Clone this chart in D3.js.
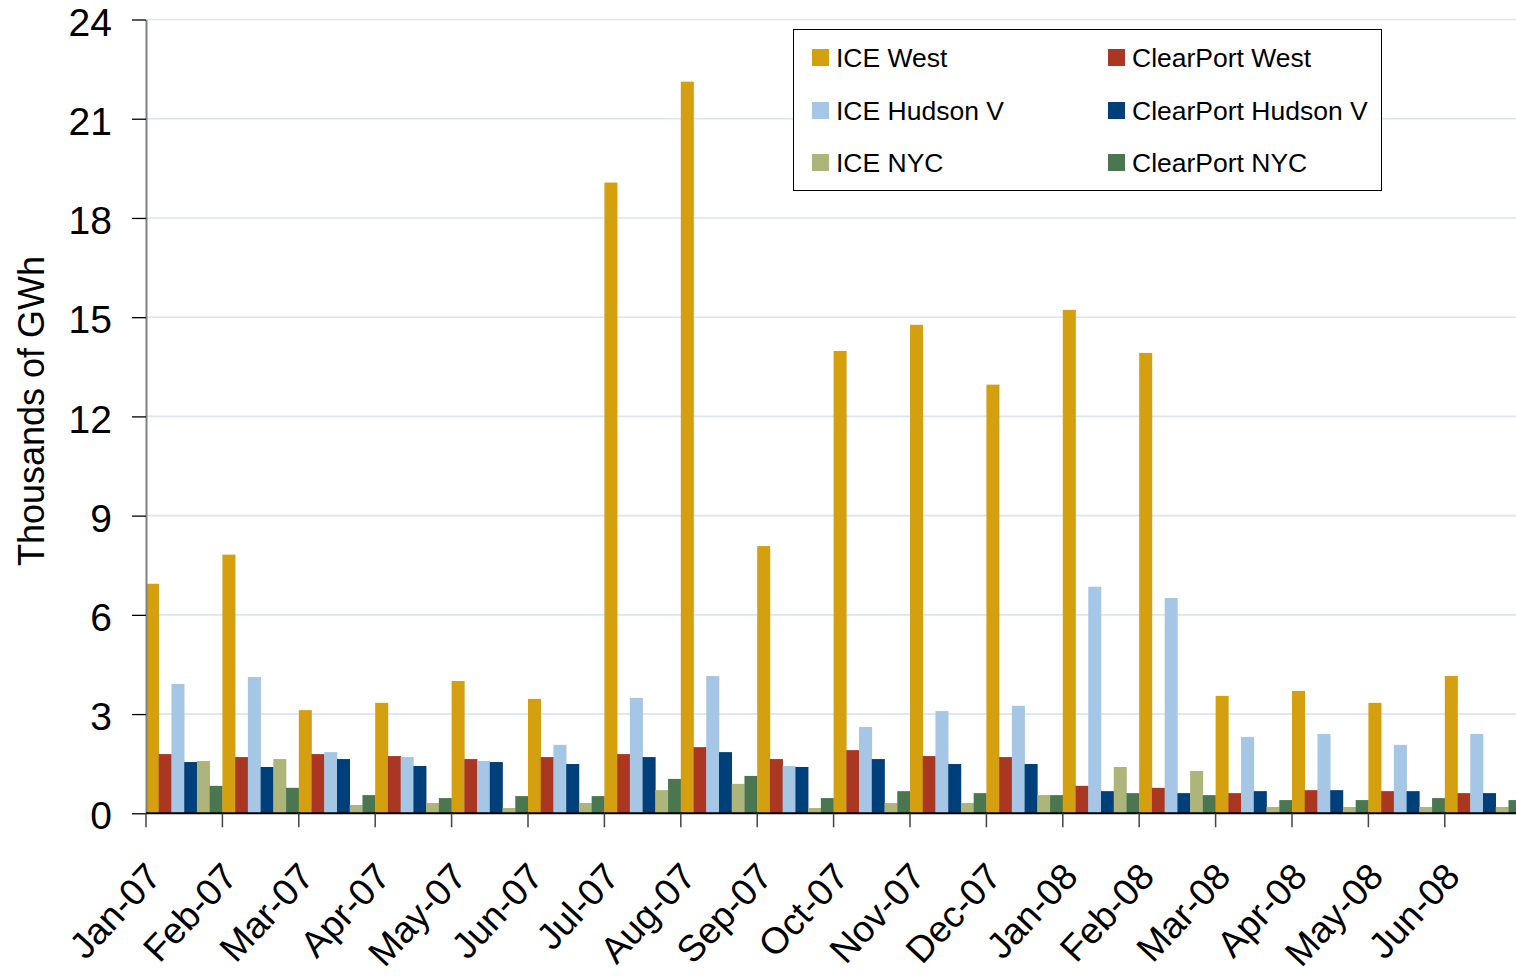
<!DOCTYPE html>
<html><head><meta charset="utf-8">
<script src="https://cdn.jsdelivr.net/npm/d3@7"></script>
<style>
html,body{margin:0;padding:0;background:#fff;}
svg{display:block;font-family:"Liberation Sans",Arial,sans-serif;}
</style></head>
<body>
<svg id="chart" width="1516" height="976"></svg>
<script>
const months = ["Jan-07","Feb-07","Mar-07","Apr-07","May-07","Jun-07","Jul-07","Aug-07","Sep-07","Oct-07","Nov-07","Dec-07","Jan-08","Feb-08","Mar-08","Apr-08","May-08","Jun-08"];
const seriesNames = ["ICE West","ClearPort West","ICE Hudson V","ClearPort Hudson V","ICE NYC","ClearPort NYC"];
const seriesColors = ["#D4A010","#A93721","#A5C6E4","#00407A","#ADB57B","#4A7750"];
const iceWest        = [6.94,7.82,3.12,3.34,4.00,3.46,19.07,22.12,8.08,13.98,14.77,12.96,15.22,13.92,3.55,3.70,3.34,4.15];
const clearPortWest  = [1.79,1.70,1.79,1.73,1.64,1.70,1.79,2.00,1.64,1.91,1.73,1.70,0.83,0.77,0.61,0.70,0.67,0.61];
const iceHudson      = [3.91,4.12,1.85,1.70,1.58,2.07,3.49,4.15,1.43,2.61,3.09,3.25,6.85,6.51,2.31,2.40,2.07,2.40];
const clearPortHudson= [1.55,1.40,1.64,1.43,1.55,1.49,1.70,1.85,1.40,1.64,1.49,1.49,0.67,0.61,0.67,0.70,0.67,0.61];
const iceNYC         = [1.58,1.64,0.25,0.31,0.16,0.31,0.70,0.89,0.16,0.31,0.31,0.55,1.40,1.28,0.19,0.19,0.19,0.19];
const clearPortNYC   = [0.83,0.77,0.55,0.46,0.52,0.52,1.04,1.13,0.46,0.67,0.61,0.55,0.61,0.55,0.40,0.40,0.46,0.40];
const yTicks = [0,3,6,9,12,15,18,21,24];
const yTitle = "Thousands of GWh";

const seriesValues = [iceWest, clearPortWest, iceHudson, clearPortHudson, iceNYC, clearPortNYC];

const svg = d3.select("#chart");
const plotLeft = 146, plotTop = 19.5, plotBottom = 813.3;
const band = 76.4;
const x = d3.scaleBand().domain(months).range([plotLeft, plotLeft + band*months.length]).padding(0);
const xi = d3.scaleBand().domain(seriesNames).range([0, x.bandwidth()]).padding(0);
const y = d3.scaleLinear().domain([0,24]).range([plotBottom, plotTop]);

// gridlines
svg.append("g").selectAll("line").data(yTicks.filter(d=>d>0)).join("line")
  .attr("x1", plotLeft).attr("x2", 1516)
  .attr("y1", d=>y(d)).attr("y2", d=>y(d))
  .attr("stroke", "#dbe6ea").attr("stroke-width", 1.6);

// bars
const groups = svg.append("g").selectAll("g").data(months).join("g")
  .attr("transform", d=>`translate(${x(d)},0)`);
groups.selectAll("rect").data((m,i)=>seriesNames.map((s,k)=>({s, v: seriesValues[k][i], c: seriesColors[k]})))
  .join("rect")
  .attr("x", d=>xi(d.s)).attr("width", xi.bandwidth()+0.3)
  .attr("y", d=>y(d.v)).attr("height", d=>y(0)-y(d.v))
  .attr("fill", d=>d.c);

// y axis
const yAxis = svg.append("g").attr("transform", `translate(${plotLeft},0)`)
  .call(d3.axisLeft(y).tickValues(yTicks).tickSize(14).tickSizeOuter(0).tickPadding(20).tickFormat(d3.format("d")));
yAxis.select(".domain").attr("stroke", "#808080").attr("stroke-width", 2);
yAxis.selectAll(".tick line").attr("stroke", "#000").attr("stroke-width", 1.3);
yAxis.selectAll(".tick text").attr("font-size", 39).attr("fill", "#000").attr("dy", "0.4em")
  .attr("font-family", '"Liberation Sans",Arial,sans-serif');

// x axis
const xAxis = svg.append("g").attr("transform", `translate(0,${plotBottom})`)
  .call(d3.axisBottom(x).tickSize(14).tickSizeOuter(0));
xAxis.select(".domain").attr("stroke", "#000").attr("stroke-width", 2)
  .attr("d", `M${plotLeft},0H1516`);
xAxis.selectAll(".tick").attr("transform", d=>`translate(${x(d)},0)`);
xAxis.selectAll(".tick line").attr("stroke", "#444").attr("stroke-width", 1.5);
xAxis.selectAll(".tick text")
  .attr("font-size", 37).attr("fill", "#000")
  .attr("font-family", '"Liberation Sans",Arial,sans-serif')
  .attr("text-anchor", "end")
  .attr("y", 0).attr("dy", 0)
  .attr("transform", "translate(17,65) rotate(-47)");

// y title
svg.append("text")
  .attr("transform", `translate(44,${411}) rotate(-90)`)
  .attr("text-anchor", "middle")
  .attr("font-size", 36).attr("fill", "#000")
  .text(yTitle);

// legend
const lg = svg.append("g");
lg.append("rect").attr("x", 793.5).attr("y", 29.5).attr("width", 588).attr("height", 161)
  .attr("fill", "#fff").attr("stroke", "#000").attr("stroke-width", 1);
const colX = [812, 1108], rowY = [57, 110, 162];
seriesNames.forEach((s,k)=>{
  const cx = colX[k%2], cy = rowY[Math.floor(k/2)];
  lg.append("rect").attr("x", cx).attr("y", cy-8).attr("width", 17).attr("height", 17).attr("fill", seriesColors[k]);
  lg.append("text").attr("x", cx+24).attr("y", cy).attr("dy", "0.36em")
    .attr("font-size", 26.5).attr("fill", "#000").text(s);
});
</script>
</body></html>
